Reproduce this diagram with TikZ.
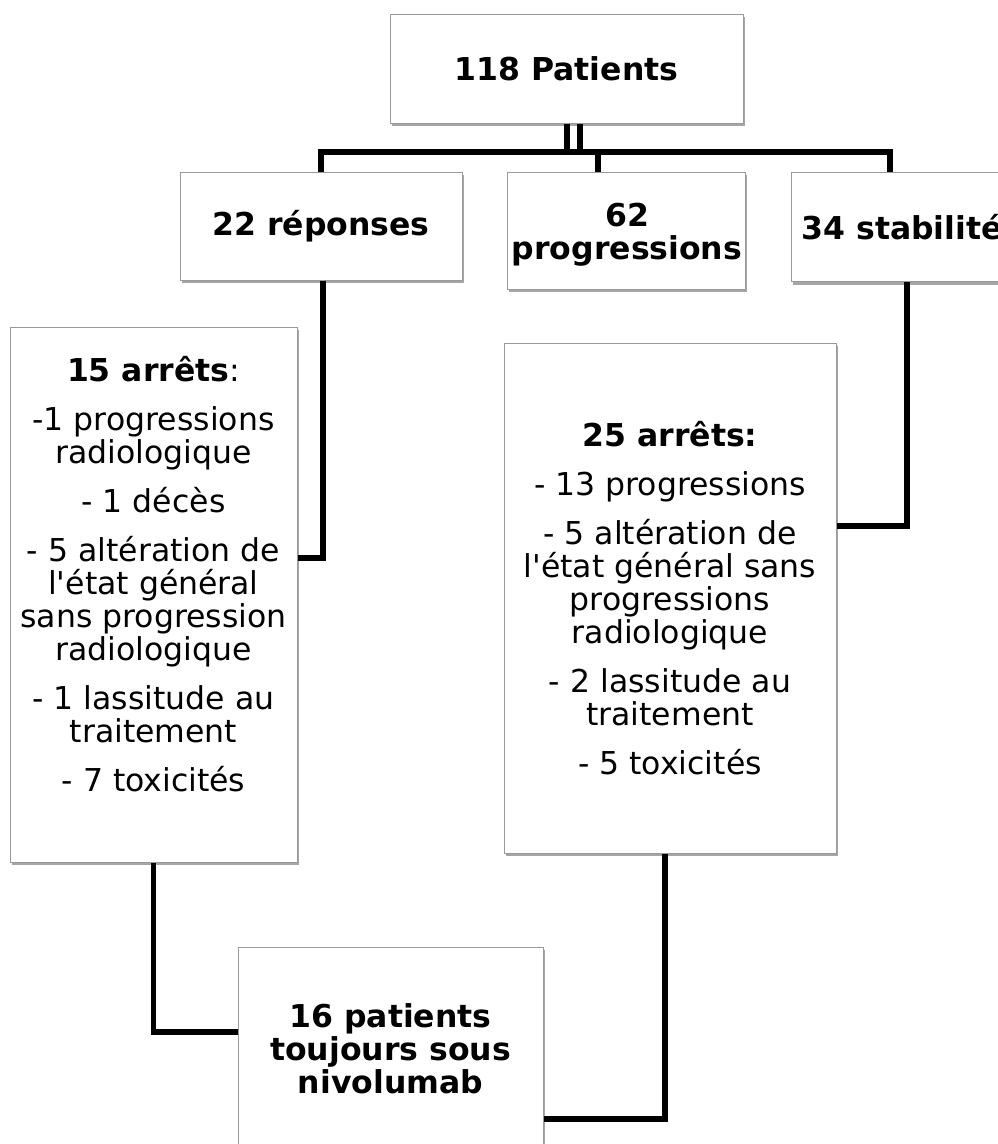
\documentclass[tikz,border=0pt]{standalone}
\usepackage{fontspec}
\setmainfont{DejaVu Sans}
\usetikzlibrary{shadows}
\definecolor{boxgray}{gray}{0.6}
\tikzset{
  flowbox/.style={draw=boxgray, line width=1pt, fill=white, inner sep=0pt, align=center,
    drop shadow={shadow xshift=1.5pt, shadow yshift=-3pt, opacity=0.35, fill=black}},
  conn/.style={line width=5.5pt, line join=miter, draw=black},
  bodytext/.style={font=\fontsize{31.5}{33}\selectfont},
  boldtext/.style={font=\fontsize{31.5}{33}\selectfont\bfseries},
}
\begin{document}
\begin{tikzpicture}[x=1pt,y=-1pt]
\useasboundingbox (0,0) rectangle (998,1144);
\clip (0,0) rectangle (998,1144);

% boxes
\node[flowbox, boldtext, minimum width=353pt, minimum height=109pt] (top) at (566.5,68.5) {118 Patients};
\node[flowbox, boldtext, minimum width=282pt, minimum height=108pt] (rep) at (321,226) {22 réponses};
\node[flowbox, minimum width=238pt, minimum height=117pt] (prog) at (626,230.5) {};
\node[boldtext, align=center, inner sep=0pt] (progtxt) at (627,235) {62\\progressions};
\node[flowbox, boldtext, minimum height=109pt, inner xsep=10pt, anchor=north west] (stab) at (791,172) {34 stabilités};
\node[flowbox, minimum width=287pt, minimum height=535pt] (arL) at (153.5,594.5) {};
\node[bodytext, align=center, inner sep=0pt] (arLtxt) at (153.5,574) {\textbf{15 arrêts}:\\[16pt]
-1 progressions\\radiologique\\[16pt]
- 1 décès\\[16pt]
- 5 altération de\\l\textquotesingle état général\\sans progression\\radiologique\\[16pt]
- 1 lassitude au\\traitement\\[16pt]
- 7 toxicités};
\node[flowbox, bodytext, minimum width=332pt, minimum height=510pt] (arR) at (670,598) {\textbf{25 arrêts:}\\[16pt]
- 13 progressions\\[16pt]
- 5 altération de\\l\textquotesingle état général sans\\progressions\\radiologique\\[16pt]
- 2 lassitude au\\traitement\\[16pt]
- 5 toxicités};
\node[flowbox, boldtext, minimum width=305pt, minimum height=203pt] (niv) at (390.5,1048.5) {16 patients\\toujours sous\\nivolumab};

% connectors
\coordinate (barL) at (321,152);
\coordinate (barR) at (890,152);
\coordinate (tapP) at (598,152);
\coordinate (d1) at (567,152);
\coordinate (d2) at (580,152);
\draw[conn] (d1 |- top.south) -- (d1);
\draw[conn] (d2 |- top.south) -- (d2);
\draw[conn] (rep.north) -- (barL) -- (barR) -- (barR |- stab.north);
\draw[conn] (tapP) -- (tapP |- prog.north);
\draw[conn] (rep.south -| 323,0) |- (arL.east |- 0,558);
\draw[conn] (stab.south -| 907,0) |- (arR.east |- 0,526);
\draw[conn] (arL.south) |- (niv.west |- 0,1032);
\draw[conn] (arR.south -| 665,0) |- (niv.east |- 0,1119);
\end{tikzpicture}
\end{document}
